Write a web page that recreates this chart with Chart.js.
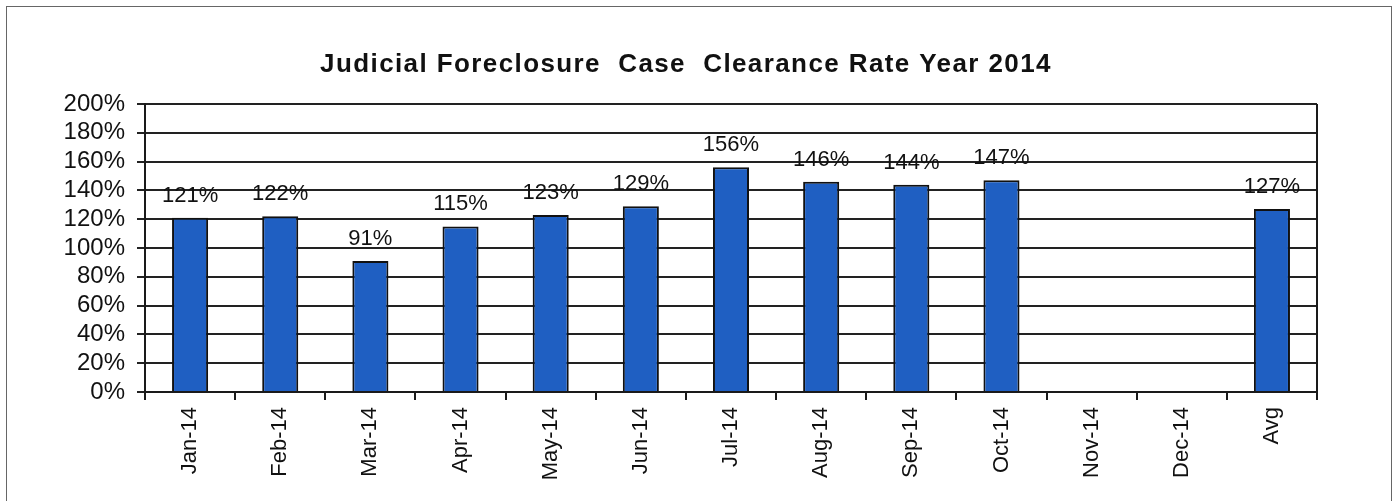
<!DOCTYPE html>
<html>
<head>
<meta charset="utf-8">
<script src="https://cdn.jsdelivr.net/npm/chart.js@4"></script>
<style>
  html, body { margin:0; padding:0; background:#fff; }
  #wrap { position:relative; width:1398px; height:501px; overflow:hidden; }
  #frame { position:absolute; left:6px; top:6px; width:1386px; height:520px; border:1.5px solid #666; box-sizing:border-box; }
  canvas { position:absolute; left:0; top:0; }
</style>
</head>
<body>
<div id="wrap">
  <div id="frame"></div>
  <canvas id="c" width="1398" height="501"></canvas>
</div>
<script>
const titleText = "Judicial Foreclosure  Case  Clearance Rate Year 2014";
const categories = ["Jan-14","Feb-14","Mar-14","Apr-14","May-14","Jun-14","Jul-14","Aug-14","Sep-14","Oct-14","Nov-14","Dec-14","Avg"];
const clearanceRate = [121,122,91,115,123,129,156,146,144,147,null,null,127];
const yTickValues = [0,20,40,60,80,100,120,140,160,180,200];

const FONT = "'Liberation Sans', Arial, sans-serif";

const decor = {
  id: 'decor',
  afterDraw(chart) {
    const ctx = chart.ctx;
    const a = chart.chartArea;
    ctx.save();
    // plot area right border
    ctx.strokeStyle = '#1a1a1a';
    ctx.lineWidth = 2;
    ctx.beginPath();
    ctx.moveTo(a.right, a.top);
    ctx.lineTo(a.right, a.bottom);
    ctx.stroke();
    // title
    ctx.fillStyle = '#111';
    ctx.font = "bold 26px " + FONT;
    ctx.letterSpacing = '1.4px';
    ctx.textAlign = 'center';
    ctx.textBaseline = 'alphabetic';
    ctx.fillText(titleText, 686, 72);
    ctx.letterSpacing = '0px';
    // data labels
    ctx.font = "22px " + FONT;
    ctx.textAlign = 'center';
    ctx.textBaseline = 'bottom';
    const meta = chart.getDatasetMeta(0);
    meta.data.forEach((bar, i) => {
      const v = clearanceRate[i];
      if (v === null || v === undefined) return;
      ctx.fillStyle = '#111';
      ctx.fillText(v + '%', bar.x, bar.y - 11);
    });
    ctx.restore();
  }
};

new Chart(document.getElementById('c'), {
  type: 'bar',
  data: {
    labels: categories,
    datasets: [{
      data: clearanceRate,
      backgroundColor: '#1f5fc2',
      borderColor: '#111',
      borderWidth: 2,
      categoryPercentage: 1.0,
      barPercentage: 0.4
    }]
  },
  options: {
    responsive: false,
    animation: false,
    events: [],
    layout: { padding: { top: 104, right: 81, bottom: 0, left: 0 } },
    plugins: { legend: { display: false }, title: { display: false }, tooltip: { enabled: false } },
    scales: {
      x: {
        offset: true,
        grid: { offset: true, drawOnChartArea: false, drawTicks: true, tickLength: 8, color: '#1a1a1a', lineWidth: 2 },
        border: { display: true, color: '#1a1a1a', width: 2 },
        ticks: { minRotation: 90, maxRotation: 90, autoSkip: false, padding: 7, color: '#111', font: { family: FONT, size: 22 } },
        afterFit(scale) { scale.height = 109; }
      },
      y: {
        min: 0, max: 200,
        afterBuildTicks(scale) { scale.ticks = yTickValues.map(v => ({ value: v })); },
        grid: { color: '#222', lineWidth: 2, tickLength: 8 },
        border: { display: true, color: '#1a1a1a', width: 2 },
        ticks: { autoSkip: false, padding: 12, color: '#111', font: { family: FONT, size: 24 }, callback: v => v + '%' },
        afterFit(scale) { scale.width = 145; }
      }
    }
  },
  plugins: [decor]
});
</script>
</body>
</html>
